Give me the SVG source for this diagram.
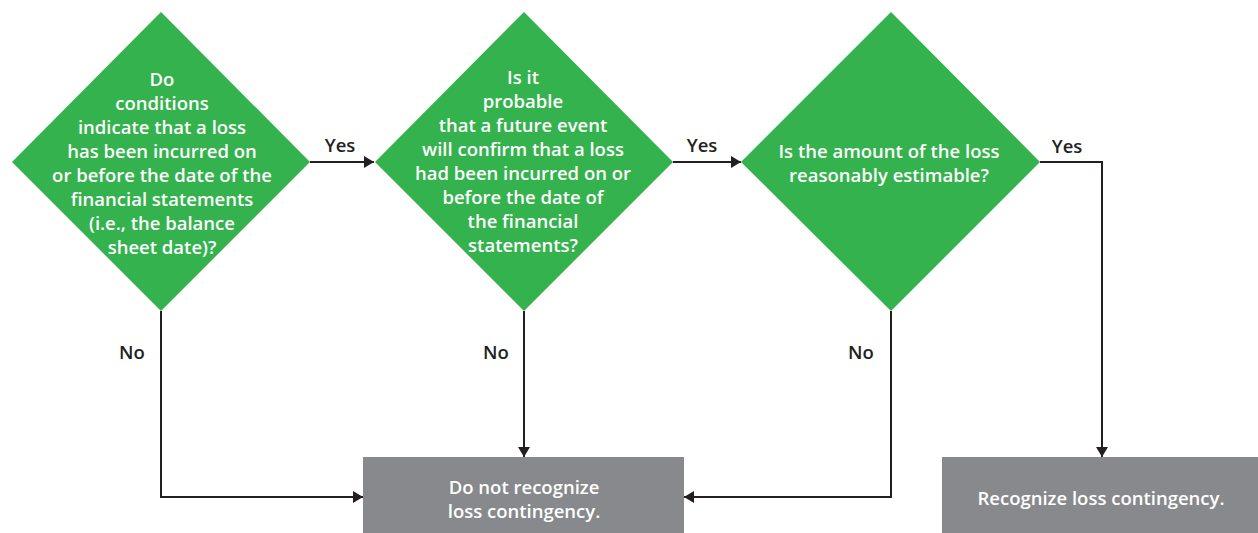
<svg xmlns="http://www.w3.org/2000/svg" width="1258" height="533" viewBox="0 0 1258 533">
<style>
.dia{fill:#33B24D}
.box{fill:#87898C}
.wt{fill:#fff;font-family:"Open Sans","Noto Sans",sans-serif;font-weight:600;font-size:18.5px;text-anchor:middle}
.lb{fill:#231F20;font-family:"Open Sans","Noto Sans",sans-serif;font-weight:600;font-size:18.5px;text-anchor:middle}
.ln{fill:none;stroke:#231F20;stroke-width:2}
</style>
<defs>
<marker id="ah" viewBox="0 0 10 12" refX="10" refY="6" markerWidth="10" markerHeight="12" markerUnits="userSpaceOnUse" orient="auto">
<path d="M0,0 L10,6 L0,12 Z" fill="#231F20"/>
</marker>
</defs>
<g id="connectors">
<path class="ln" d="M310,162 H374" marker-end="url(#ah)"/>
<path class="ln" d="M673,162 H741" marker-end="url(#ah)"/>
<path class="ln" d="M1040,162 H1102 V457" marker-end="url(#ah)"/>
<path class="ln" d="M161,311 V497 H363" marker-end="url(#ah)"/>
<path class="ln" d="M524,311 V457" marker-end="url(#ah)"/>
<path class="ln" d="M891,311 V497 H684" marker-end="url(#ah)"/>
<text class="lb" x="340" y="152">Yes</text>
<text class="lb" x="702" y="152">Yes</text>
<text class="lb" x="1067" y="153">Yes</text>
<text class="lb" x="132" y="359">No</text>
<text class="lb" x="496" y="359">No</text>
<text class="lb" x="861" y="359">No</text>
</g>
<g id="d1">
<polygon class="dia" points="161,12 310,162 161,311 12,162"/>
<text class="wt"><tspan x="162" y="86">Do</tspan><tspan x="162" y="110">conditions</tspan><tspan x="162" y="134">indicate that a loss</tspan><tspan x="162" y="158">has been incurred on</tspan><tspan x="162" y="182">or before the date of the</tspan><tspan x="162" y="206">financial statements</tspan><tspan x="162" y="230">(i.e., the balance</tspan><tspan x="162" y="254">sheet date)?</tspan></text>
</g>
<g id="d2">
<polygon class="dia" points="524,12 673,162 524,311 375,162"/>
<text class="wt"><tspan x="523" y="84">Is it</tspan><tspan x="523" y="108">probable</tspan><tspan x="523" y="132">that a future event</tspan><tspan x="523" y="156">will confirm that a loss</tspan><tspan x="523" y="180">had been incurred on or</tspan><tspan x="523" y="204">before the date of</tspan><tspan x="523" y="228">the financial</tspan><tspan x="523" y="252">statements?</tspan></text>
</g>
<g id="d3">
<polygon class="dia" points="891,12 1040,162 891,311 741,162"/>
<text class="wt"><tspan x="889" y="158">Is the amount of the loss</tspan><tspan x="889" y="182">reasonably estimable?</tspan></text>
</g>
<g id="b1">
<rect class="box" x="363" y="457" width="321" height="76"/>
<text class="wt"><tspan x="524" y="494">Do not recognize</tspan><tspan x="524" y="518">loss contingency.</tspan></text>
</g>
<g id="b2">
<rect class="box" x="942" y="457" width="316" height="76"/>
<text class="wt"><tspan x="1101" y="505">Recognize loss contingency.</tspan></text>
</g>
</svg>
